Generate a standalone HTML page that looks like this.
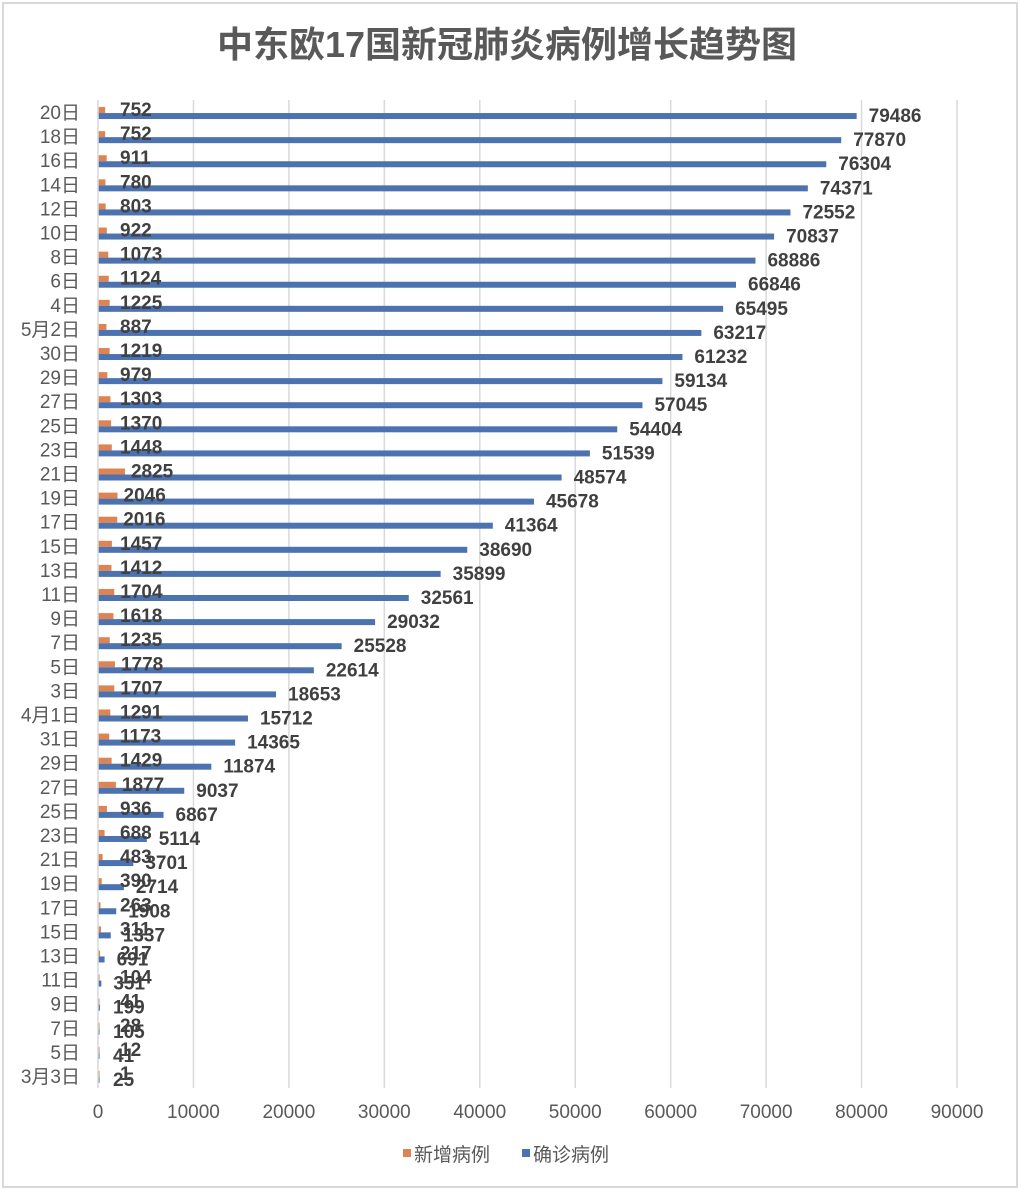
<!DOCTYPE html>
<html><head><meta charset="utf-8"><style>
body{margin:0;background:#fff;}
svg{display:block;font-family:"Liberation Sans","Noto Sans CJK SC",sans-serif;}
</style></head><body>
<svg id="chart" width="1020" height="1192">
<rect x="3" y="3" width="1014" height="1184" fill="#fff" stroke="#d9d9d9" stroke-width="2"/>
<text x="507" y="57" text-anchor="middle" font-size="36" font-weight="bold" fill="#595959">中东欧17国新冠肺炎病例增长趋势图</text>
<g id="grid"></g><g id="bars"></g><g id="labels"></g><g id="axes"></g>
<g>
<rect x="403" y="1149" width="8" height="8" fill="#dd8452"/>
<text x="414" y="1161" font-size="19" fill="#595959">新增病例</text>
<rect x="522" y="1149" width="8" height="8" fill="#4c72b0"/>
<text x="533" y="1161" font-size="19" fill="#595959">确诊病例</text>
</g>
</svg>
<script>
const categories=["20日","18日","16日","14日","12日","10日","8日","6日","4日","5月2日","30日","29日","27日","25日","23日","21日","19日","17日","15日","13日","11日","9日","7日","5日","3日","4月1日","31日","29日","27日","25日","23日","21日","19日","17日","15日","13日","11日","9日","7日","5日","3月3日"];
const newCases=[752,752,911,780,803,922,1073,1124,1225,887,1219,979,1303,1370,1448,2825,2046,2016,1457,1412,1704,1618,1235,1778,1707,1291,1173,1429,1877,936,688,483,390,263,311,217,104,41,28,12,1];
const totalCases=[79486,77870,76304,74371,72552,70837,68886,66846,65495,63217,61232,59134,57045,54404,51539,48574,45678,41364,38690,35899,32561,29032,25528,22614,18653,15712,14365,11874,9037,6867,5114,3701,2714,1908,1337,691,351,199,105,41,25];
const xTicks=[0,10000,20000,30000,40000,50000,60000,70000,80000,90000];
const NS="http://www.w3.org/2000/svg";
const x0=98,x1=957,xMax=90000,yTop=100,yBottom=1088;
const xs=v=>x0+(x1-x0)*v/xMax;
const band=(yBottom-yTop)/categories.length;
const yc=i=>yTop+band*(i+0.5);
function mk(tag,attrs,parent,txt){const e=document.createElementNS(NS,tag);for(const k in attrs)e.setAttribute(k,attrs[k]);if(txt!==undefined)e.textContent=txt;document.getElementById(parent).appendChild(e);return e;}
xTicks.forEach((t,i)=>{
 if(i>0){const g=mk('line',{x1:xs(t),x2:xs(t),y1:yTop,y2:yBottom,stroke:'#d9d9d9','stroke-width':1.5},'grid');
 
 }
 const l=mk('text',{x:xs(t),y:1118,'text-anchor':'middle','font-size':19,fill:'#595959'},'axes',String(t));
 
 
});
const ax=mk('line',{x1:x0,x2:x0,y1:yTop,y2:yBottom,stroke:'#d9d9d9','stroke-width':1.5},'axes');


categories.forEach((c,i)=>{
 const y=yc(i);
 const t=mk('text',{x:80,y:y+7,'text-anchor':'end','font-size':19,fill:'#595959'},'axes',c);
 
 
 const b1=mk('rect',{x:x0,y:y-5,width:Math.max(xs(newCases[i])-x0,1.5),height:6,fill:'#dd8452'},'bars');
 
 
 const b2=mk('rect',{x:x0,y:y+1,width:Math.max(xs(totalCases[i])-x0,1.5),height:6,fill:'#4c72b0'},'bars');
 
 
 const l1=mk('text',{x:Math.max(xs(newCases[i])+6,120),y:y+4,'font-size':19,'font-weight':'bold',fill:'#404040'},'labels',String(newCases[i]));
 
 
 const l2=mk('text',{x:Math.max(xs(totalCases[i])+12,113),y:y+10,'font-size':19,'font-weight':'bold',fill:'#404040'},'labels',String(totalCases[i]));
 
 
});
</script>
</body></html>
